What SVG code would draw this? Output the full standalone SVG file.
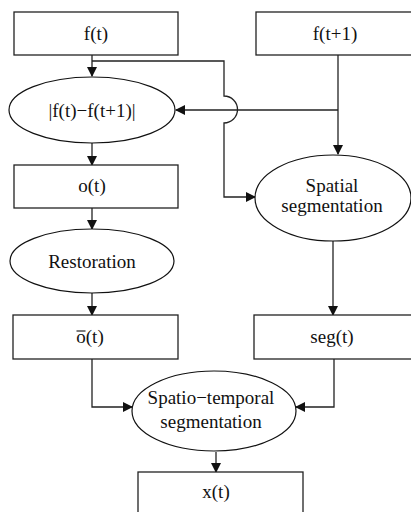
<svg xmlns="http://www.w3.org/2000/svg" width="411" height="512" viewBox="0 0 411 512">
<style>
.box{fill:#fff;stroke:#222;stroke-width:1.3}
.ell{fill:#fff;stroke:#111;stroke-width:1.2}
.t{font-family:'Liberation Serif','Times New Roman','DejaVu Serif',serif;font-size:19px;fill:#111;text-anchor:middle}
.c{fill:none;stroke:#222;stroke-width:1.3}
</style>
<defs>
<marker id="ah" markerWidth="10" markerHeight="10" refX="9" refY="5" orient="auto" markerUnits="userSpaceOnUse">
<path d="M0,0 L10,5 L0,10 Z" fill="#111"/>
</marker>
</defs>
<rect width="411" height="512" fill="#fff"/>
<g id="connectors">
<path class="c" d="M92,55 V76" marker-end="url(#ah)"/>
<path class="c" d="M92,61 H224 V96 A13,13 0 0 1 224,123 V197 H255" marker-end="url(#ah)"/>
<path class="c" d="M338,55 V154" marker-end="url(#ah)"/>
<path class="c" d="M338,110 H176" marker-end="url(#ah)"/>
<path class="c" d="M92,143 V165" marker-end="url(#ah)"/>
<path class="c" d="M92,208 V229" marker-end="url(#ah)"/>
<path class="c" d="M92,293 V315" marker-end="url(#ah)"/>
<path class="c" d="M333,241 V315" marker-end="url(#ah)"/>
<path class="c" d="M92,359 V407 H132" marker-end="url(#ah)"/>
<path class="c" d="M334,359 V407 H296" marker-end="url(#ah)"/>
<path class="c" d="M216,452 V472" marker-end="url(#ah)"/>
</g>
<g id="ft"><rect class="box" x="14" y="12" width="164" height="43"/><text class="t" x="96" y="40">f(t)</text></g>
<g id="ft1"><rect class="box" x="256" y="12" width="160" height="43"/><text class="t" x="335" y="40">f(t+1)</text></g>
<g id="diff"><ellipse class="ell" cx="92" cy="110" rx="83" ry="33"/><text class="t" x="92" y="117">|f(t)−f(t+1)|</text></g>
<g id="ot"><rect class="box" x="14" y="165" width="164" height="43"/><text class="t" x="92" y="192">o(t)</text></g>
<g id="restoration"><ellipse class="ell" cx="92" cy="261" rx="82" ry="32"/><text class="t" x="92" y="268">Restoration</text></g>
<g id="obar"><rect class="box" x="13" y="315" width="165" height="44"/><text class="t" x="90" y="343">o(t)</text><line x1="76.5" y1="331" x2="85.5" y2="331" stroke="#111" stroke-width="1.1"/></g>
<g id="spatial"><ellipse class="ell" cx="333" cy="198" rx="78" ry="43"/><text class="t" x="332" y="192">Spatial</text><text class="t" x="332" y="212">segmentation</text></g>
<g id="seg"><rect class="box" x="254" y="315" width="160" height="44"/><text class="t" x="332" y="343">seg(t)</text></g>
<g id="st"><ellipse class="ell" cx="214" cy="411" rx="82" ry="40"/><text class="t" x="211" y="404">Spatio−temporal</text><text class="t" x="211" y="428">segmentation</text></g>
<g id="xt"><rect class="box" x="138" y="472" width="165" height="45"/><text class="t" x="216" y="498">x(t)</text></g>
</svg>
